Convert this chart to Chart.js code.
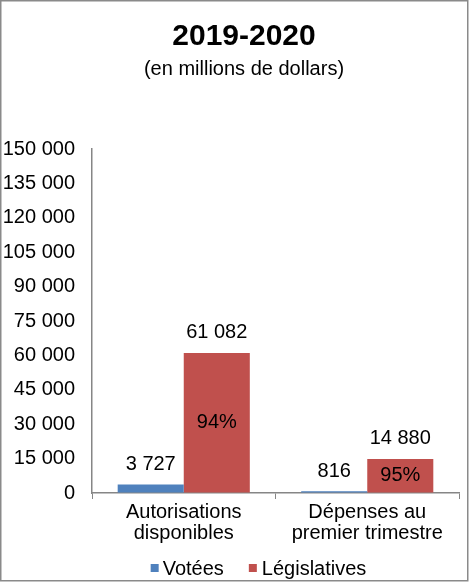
<!DOCTYPE html>
<html><head><meta charset="utf-8">
<script src="https://cdn.jsdelivr.net/npm/chart.js@4.4.1/dist/chart.umd.min.js"></script>
<style>html,body{margin:0;padding:0;background:#fff;}canvas{display:block;}</style>
</head><body>
<canvas id="c" width="472" height="582"></canvas>
<script>
const categories = [["Autorisations", "disponibles"], ["Dépenses au", "premier trimestre"]];
const seriesNames = ["Votées", "Législatives"];
const votees = [3727, 816];
const legislatives = [61082, 14880];
const yMin = 0, yMax = 150000, yStep = 15000;
const titleText = "2019-2020";
const subtitleText = "(en millions de dollars)";
const colors = ["#4F81BD", "#C0504D"];

const FONT = "'Liberation Sans', Arial, sans-serif";
Chart.defaults.font.family = FONT;
Chart.defaults.color = "#000";

function fmt(v) { return String(v).replace(/\B(?=(\d{3})+(?!\d))/g, " "); }

const labelPlugin = {
  id: "labels",
  afterDatasetsDraw(chart) {
    const ctx = chart.ctx;
    ctx.save();
    ctx.font = "20px " + FONT;
    ctx.fillStyle = "#000";
    ctx.textAlign = "center";
    ctx.textBaseline = "middle";
    chart.data.datasets.forEach((ds, di) => {
      const meta = chart.getDatasetMeta(di);
      meta.data.forEach((bar, i) => {
        ctx.fillText(fmt(ds.data[i]), bar.x, bar.y - 20);
      });
    });
    // share of Législatives inside red bars
    const meta = chart.getDatasetMeta(1);
    meta.data.forEach((bar, i) => {
      const total = votees[i] + legislatives[i];
      const pct = Math.round(legislatives[i] / total * 100) + "%";
      ctx.fillText(pct, bar.x, (bar.y + bar.base) / 2);
    });
    ctx.restore();
  },
  afterDraw(chart) {
    const ctx = chart.ctx;
    ctx.save();
    // titles
    ctx.fillStyle = "#000";
    ctx.textAlign = "center";
    ctx.textBaseline = "middle";
    ctx.font = "bold 30px " + FONT;
    ctx.fillText(titleText, 244, 37);
    ctx.font = "20px " + FONT;
    ctx.fillText(subtitleText, 244, 69);
    // legend
    ctx.textBaseline = "middle";
    ctx.textAlign = "left";
    const y = 568;
    const box = 8;
    const w = chart.data.datasets.map(d => ctx.measureText(d.label).width);
    const total = box + 4 + w[0] + 25 + box + 5 + w[1];
    let x = 258.5 - total / 2;
    chart.data.datasets.forEach((d, i) => {
      ctx.fillStyle = d.backgroundColor;
      ctx.fillRect(x, y - box / 2, box, box);
      x += box + (i === 0 ? 4 : 5);
      ctx.fillStyle = "#000";
      ctx.fillText(d.label, x, y + 1);
      x += w[i] + 25;
    });
    // outer border
    ctx.strokeStyle = "#8a8a8a";
    ctx.lineWidth = 1.5;
    ctx.strokeRect(0.75, 0.75, 467, 580);
    ctx.restore();
  }
};

new Chart(document.getElementById("c"), {
  type: "bar",
  data: {
    labels: categories,
    datasets: [
      { label: seriesNames[0], data: votees, backgroundColor: colors[0] },
      { label: seriesNames[1], data: legislatives, backgroundColor: colors[1] }
    ]
  },
  options: {
    responsive: false,
    animation: false,
    devicePixelRatio: 1,
    layout: { padding: { left: 0, right: 13, top: 149, bottom: 0 } },
    categoryPercentage: 0.72,
    barPercentage: 1.0,
    plugins: {
      legend: { display: false },
      tooltip: { enabled: false },
      title: { display: false },
      subtitle: { display: false }
    },
    scales: {
      x: {
        grid: { display: true, drawOnChartArea: false, drawTicks: true, tickLength: 6, color: "#868686", offset: true },
        border: { display: true, color: "#868686", width: 1.5 },
        ticks: { font: { size: 20, lineHeight: 1.05 }, color: "#000", padding: 3, maxRotation: 0, autoSkip: false },
        afterFit(s) { s.height = 89; }
      },
      y: {
        min: yMin, max: yMax,
        grid: { display: true, drawOnChartArea: false, drawTicks: false },
        border: { display: true, color: "#868686", width: 1.5 },
        ticks: { stepSize: yStep, font: { size: 20 }, color: "#000", padding: 17, callback: v => fmt(v) },
        afterFit(s) { s.width = 92; }
      }
    }
  },
  plugins: [labelPlugin]
});
</script>
</body></html>
